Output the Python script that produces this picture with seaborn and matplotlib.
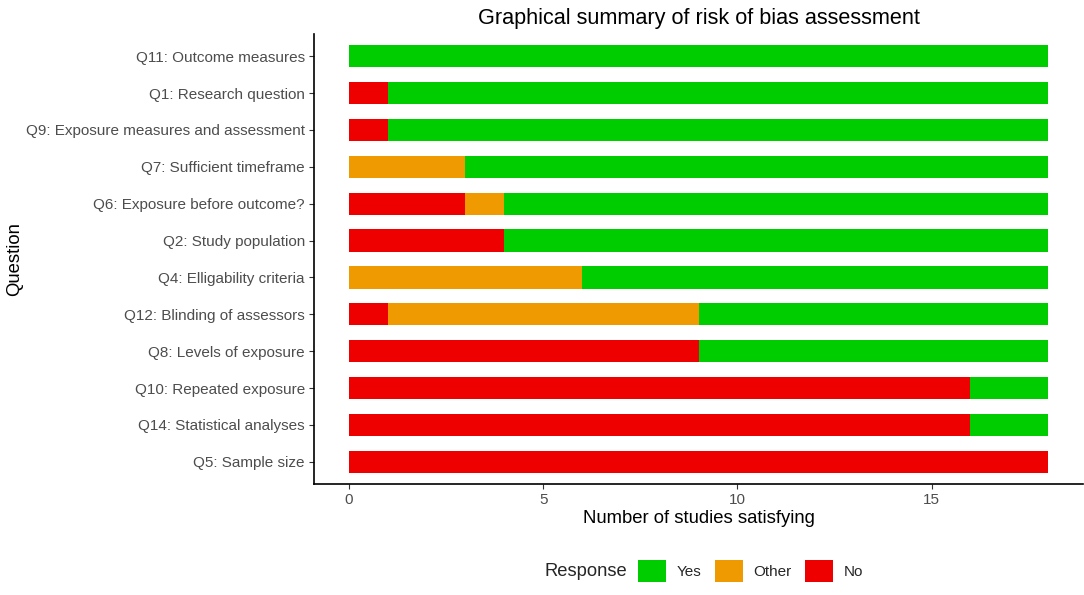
import pandas as pd
import seaborn as sns
import matplotlib.pyplot as plt
from matplotlib.patches import Patch

# counts per question (18 studies each)
questions = [
    "Q11: Outcome measures",
    "Q1: Research question",
    "Q9: Exposure measures and assessment",
    "Q7: Sufficient timeframe",
    "Q6: Exposure before outcome?",
    "Q2: Study population",
    "Q4: Elligability criteria",
    "Q12: Blinding of assessors",
    "Q8: Levels of exposure",
    "Q10: Repeated exposure",
    "Q14: Statistical analyses",
    "Q5: Sample size",
]
no_counts = [0, 1, 1, 0, 3, 4, 0, 1, 9, 16, 16, 18]
other_counts = [0, 0, 0, 3, 1, 0, 6, 8, 0, 0, 0, 0]
yes_counts = [18, 17, 17, 15, 14, 14, 12, 9, 9, 2, 2, 0]

responses = ["Yes", "Other", "No"]
colors = {"Yes": "#00CD00", "Other": "#EE9A00", "No": "#EE0000"}

df = pd.DataFrame({
    "Question": questions,
    "No": no_counts,
    "Other": other_counts,
    "Yes": yes_counts,
})
# cumulative ends of each stacked segment (No on the left, then Other, then Yes)
df["end_no"] = df["No"]
df["end_other"] = df["No"] + df["Other"]
df["end_yes"] = df["No"] + df["Other"] + df["Yes"]

sns.set_theme(style="ticks")
plt.rcParams["font.family"] = ["Liberation Sans", "DejaVu Sans"]

fig = plt.figure(figsize=(10.84, 5.95), dpi=100)
ax = fig.add_axes([314 / 1084, 1 - 484 / 595, 769 / 1084, 450 / 595])

for col, resp in [("end_yes", "Yes"), ("end_other", "Other"), ("end_no", "No")]:
    sns.barplot(data=df, x=col, y="Question", order=questions, orient="h",
                color=colors[resp], saturation=1, width=0.6, linewidth=0,
                errorbar=None, ax=ax)

ax.set_xlim(-0.9, 18.9)
ax.set_ylim(len(questions) - 1 + 0.6, -0.6)
ax.set_xticks([0, 5, 10, 15])

sns.despine(ax=ax)
for side in ["left", "bottom"]:
    ax.spines[side].set_linewidth(1.2)
    ax.spines[side].set_color("black")
ax.tick_params(axis="both", length=3.5, width=0.8, color="#333333",
               labelcolor="#4D4D4D", labelsize=11, pad=3)

ax.set_xlabel("Number of studies satisfying", fontsize=13.3, color="black")
ax.set_ylabel("Question", fontsize=13.3, color="black")
ax.xaxis.set_label_coords(0.5, -0.058)
ax.yaxis.set_label_coords(-0.378, 0.5)

ax.set_title("Graphical summary of risk of bias assessment", fontsize=15.6,
             color="black", pad=7)

# legend, horizontal with title on the left
fig.text(545 / 1084, 1 - 571 / 595, "Response", fontsize=13.2,
         ha="left", va="center")
handles = [Patch(facecolor=colors[r], edgecolor="none", label=r) for r in responses]
fig.legend(handles=handles, loc="center left",
           bbox_to_anchor=(638 / 1084, 1 - 571 / 595), ncol=3, frameon=False,
           fontsize=11, handlelength=1.83, handleheight=1.77,
           handletextpad=0.72, columnspacing=0.85, borderpad=0,
           borderaxespad=0)

fig.savefig("out.png", dpi=100)
